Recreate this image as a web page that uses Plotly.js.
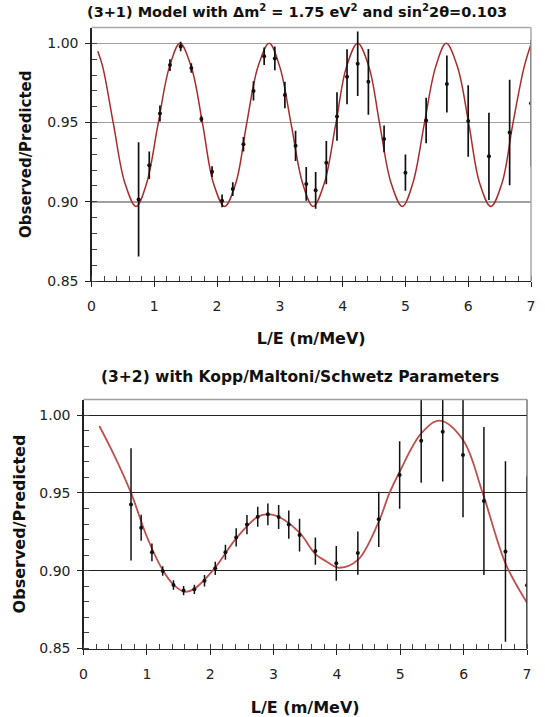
<!DOCTYPE html>
<html>
<head>
<meta charset="utf-8">
<script src="https://cdn.plot.ly/plotly-3.0.1.min.js"></script>
<style>html,body{margin:0;padding:0;background:#fff;}#chart{width:545px;height:717px;}</style>
</head>
<body>
<div id="chart"></div>
<script>
// ---------- Top panel: (3+1) model ----------
var topTitle = '(3+1) Model with \u0394m<sup>2</sup> = 1.75 eV<sup>2</sup> and sin<sup>2</sup>2\u03b8=0.103';
var topDataX = [0.75, 0.92, 1.09, 1.25, 1.42, 1.59, 1.75, 1.92, 2.08, 2.25, 2.42, 2.58, 2.75, 2.92, 3.08, 3.25, 3.42, 3.57, 3.74, 3.91, 4.07, 4.24, 4.41, 4.66, 5.0, 5.33, 5.66, 6.0, 6.33, 6.66, 7.0];
var topDataY = [0.9015, 0.923, 0.9557, 0.9863, 0.998, 0.9845, 0.9523, 0.919, 0.9006, 0.908, 0.9363, 0.970, 0.9918, 0.9905, 0.9674, 0.9353, 0.9113, 0.9072, 0.9247, 0.9538, 0.9789, 0.9871, 0.9757, 0.9397, 0.9184, 0.9513, 0.9743, 0.951, 0.9287, 0.9437, 0.9622];
var topDataErr = [0.036, 0.0087, 0.005, 0.0037, 0.003, 0.003, 0.002, 0.0034, 0.004, 0.0044, 0.0046, 0.006, 0.0055, 0.0075, 0.0084, 0.0095, 0.0107, 0.0116, 0.0137, 0.0153, 0.0173, 0.0203, 0.0207, 0.0085, 0.0115, 0.0143, 0.018, 0.0225, 0.0275, 0.0333, 0.04];
var topCurveX = [0.10, 0.18, 0.35, 0.53, 0.71, 0.88, 1.06, 1.24, 1.41, 1.59, 1.77, 1.94, 2.12, 2.30, 2.47, 2.65, 2.83, 3.00, 3.18, 3.36, 3.53, 3.71, 3.89, 4.06, 4.24, 4.42, 4.59, 4.77, 4.95, 5.12, 5.30, 5.48, 5.65, 5.83, 6.01, 6.18, 6.36, 6.54, 6.71, 6.89, 7.00];
var topCurveY = [0.995, 0.985, 0.949, 0.912, 0.897, 0.912, 0.949, 0.985, 1.000, 0.985, 0.949, 0.912, 0.897, 0.912, 0.949, 0.985, 1.000, 0.985, 0.949, 0.912, 0.897, 0.912, 0.949, 0.985, 1.000, 0.985, 0.949, 0.912, 0.897, 0.912, 0.949, 0.985, 1.000, 0.985, 0.949, 0.912, 0.897, 0.912, 0.949, 0.985, 0.9995];

// ---------- Bottom panel: (3+2) model ----------
var botTitle = '(3+2) with Kopp/Maltoni/Schwetz Parameters';
var botDataX = [0.75, 0.91, 1.08, 1.25, 1.42, 1.58, 1.75, 1.91, 2.08, 2.24, 2.41, 2.58, 2.75, 2.91, 3.08, 3.24, 3.41, 3.66, 3.99, 4.33, 4.66, 4.99, 5.33, 5.67, 5.99, 6.32, 6.66, 7.0];
var botDataY = [0.9426, 0.9276, 0.9118, 0.8998, 0.8908, 0.8872, 0.888, 0.8936, 0.9015, 0.9118, 0.9214, 0.9296, 0.9347, 0.9362, 0.9345, 0.9296, 0.9229, 0.9126, 0.9047, 0.9113, 0.933, 0.9615, 0.9835, 0.9893, 0.9743, 0.9448, 0.9124, 0.8906];
var botDataErr = [0.036, 0.0084, 0.0057, 0.003, 0.003, 0.003, 0.003, 0.0037, 0.0043, 0.0048, 0.0059, 0.0062, 0.0064, 0.007, 0.0077, 0.009, 0.0105, 0.0088, 0.0112, 0.0139, 0.0177, 0.0217, 0.027, 0.032, 0.040, 0.0476, 0.058, 0.07];
var botCurveX = [0.25, 0.47, 0.75, 1.0, 1.25, 1.42, 1.59, 1.75, 2.08, 2.41, 2.75, 2.91, 3.08, 3.41, 3.66, 3.84, 4.03, 4.33, 4.66, 4.83, 4.99, 5.33, 5.62, 5.99, 6.30, 6.66, 7.0];
var botCurveY = [0.993, 0.9754, 0.95, 0.9218, 0.9004, 0.891, 0.8865, 0.8884, 0.9021, 0.9208, 0.9347, 0.9364, 0.9347, 0.9244, 0.9107, 0.9058, 0.9019, 0.9069, 0.9315, 0.95, 0.9636, 0.9882, 0.9964, 0.984, 0.95, 0.9047, 0.8794];

// ---------- Axis labels ----------
var xTickVals = [0, 1, 2, 3, 4, 5, 6, 7];
var yTickVals = [0.85, 0.90, 0.95, 1.00];
var xLabel = 'L/E (m/MeV)';
var yLabel = 'Observed/Predicted';

var FONT = 'DejaVu Sans, Verdana, sans-serif';
var W = 545, H = 717;

function px(x) { return x / W; }
function py(y) { return 1 - y / H; }

var traces = [
  {x: topCurveX, y: topCurveY, xaxis: 'x', yaxis: 'y', type: 'scatter', mode: 'lines',
   line: {color: '#ab2a2c', width: 1.5, shape: 'spline', smoothing: 1}, hoverinfo: 'skip'},
  {x: topDataX, y: topDataY, xaxis: 'x', yaxis: 'y', type: 'scatter', mode: 'markers',
   marker: {color: '#111', size: 4},
   error_y: {type: 'data', array: topDataErr, visible: true, color: '#111', thickness: 1.7, width: 0}},
  {x: botCurveX, y: botCurveY, xaxis: 'x2', yaxis: 'y2', type: 'scatter', mode: 'lines',
   line: {color: '#c0504d', width: 1.8, shape: 'spline', smoothing: 1}, hoverinfo: 'skip'},
  {x: botDataX, y: botDataY, xaxis: 'x2', yaxis: 'y2', type: 'scatter', mode: 'markers',
   marker: {color: '#111', size: 4},
   error_y: {type: 'data', array: botDataErr, visible: true, color: '#111', thickness: 1.5, width: 0}}
];

function xAxis(domain, anchor, titleSize, standoff) {
  return {
    domain: domain, anchor: anchor, range: [0, 7], tickvals: xTickVals,
    ticks: 'outside', ticklen: 5, tickcolor: '#222', tickwidth: 1,
    showline: true, linecolor: '#222', linewidth: 1.2,
    showgrid: false, zeroline: false,
    tickfont: {family: FONT, size: 14, color: '#222'},
    ticklabelstandoff: 7,
    minor: {dtick: 0.2, tick0: 0, ticks: 'inside', ticklen: 5, tickcolor: '#444', tickwidth: 1, showgrid: false},
    title: {text: xLabel, font: {family: FONT, size: titleSize, color: '#111', weight: 'bold'}, standoff: standoff},
    fixedrange: true
  };
}
function yAxis(domain, anchor, gridColor, gridWidth, titleSize, standoff) {
  return {
    domain: domain, anchor: anchor, range: [0.85, 1.01], tickvals: yTickVals, tickformat: '.2f',
    ticks: 'outside', ticklen: 5, tickcolor: '#222', tickwidth: 1,
    showline: true, linecolor: '#222', linewidth: 1.2,
    showgrid: true, gridcolor: gridColor, gridwidth: gridWidth, zeroline: false,
    tickfont: {family: FONT, size: 14, color: '#222'},
    ticklabelstandoff: 4,
    minor: {dtick: 0.01, tick0: 0.85, ticks: 'inside', ticklen: 5, tickcolor: '#444', tickwidth: 1, showgrid: false},
    title: {text: yLabel, font: {family: FONT, size: titleSize, color: '#111', weight: 'bold'}, standoff: standoff},
    fixedrange: true
  };
}

var layout = {
  width: W, height: H,
  margin: {l: 0, r: 0, t: 0, b: 0},
  paper_bgcolor: '#fff', plot_bgcolor: '#fff',
  showlegend: false,
  xaxis: xAxis([px(91.5), px(531)], 'y', 16, 19),
  yaxis: yAxis([py(281), py(27.5)], 'x', '#a0a0a0', 1.5, 15, 12),
  xaxis2: xAxis([px(83.5), px(527)], 'y2', 16, 22),
  yaxis2: yAxis([py(648.5), py(399.5)], 'x2', '#222', 1, 16, 9),
  shapes: [
    {type: 'line', xref: 'x domain', yref: 'y domain', x0: 0, x1: 1, y0: 1, y1: 1, line: {color: '#a8a8a8', width: 1.5}},
    {type: 'line', xref: 'x domain', yref: 'y domain', x0: 1, x1: 1, y0: 0, y1: 1, line: {color: '#a8a8a8', width: 1.5}},
    {type: 'line', xref: 'x2 domain', yref: 'y2 domain', x0: 0, x1: 1, y0: 1, y1: 1, line: {color: '#a0a0a0', width: 1.5}},
    {type: 'line', xref: 'x2 domain', yref: 'y2 domain', x0: 1, x1: 1, y0: 0, y1: 1, line: {color: '#555', width: 1.2}}
  ],
  annotations: [
    {text: topTitle, xref: 'paper', yref: 'paper', x: px(297.5), y: py(11), xanchor: 'center', yanchor: 'middle',
     showarrow: false, font: {family: FONT, size: 14.5, color: '#111', weight: 'bold'}},
    {text: botTitle, xref: 'paper', yref: 'paper', x: px(300), y: py(377), xanchor: 'center', yanchor: 'middle',
     showarrow: false, font: {family: FONT, size: 15.5, color: '#111', weight: 'bold'}}
  ]
};

Plotly.newPlot('chart', traces, layout, {staticPlot: true, displayModeBar: false});
</script>
</body>
</html>
